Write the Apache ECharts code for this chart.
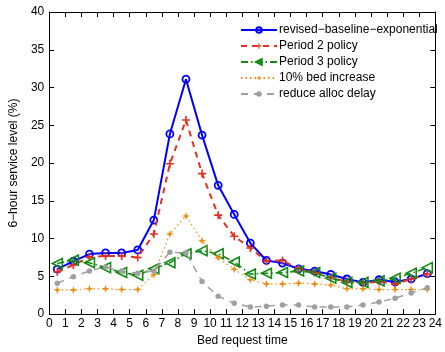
<!DOCTYPE html>
<html><head><meta charset="utf-8">
<script src="https://cdn.jsdelivr.net/npm/echarts@6/dist/echarts.min.js"></script>
<style>html,body{margin:0;padding:0;background:#fff}#c{width:445px;height:352px}</style>
</head><body><div id="c"></div>
<script>
var hours = [0.5,1.5,2.5,3.5,4.5,5.5,6.5,7.5,8.5,9.5,10.5,11.5,12.5,13.5,14.5,15.5,16.5,17.5,18.5,19.5,20.5,21.5,22.5,23.5];
var baseline = [5.95,7.0,7.95,8.1,8.1,8.5,12.45,23.85,31.1,23.7,17.05,13.2,9.4,7.1,6.75,6.0,5.7,5.25,4.65,4.2,4.55,4.25,4.65,5.35];
var period2  = [5.6,6.5,7.55,7.7,7.7,7.5,10.6,19.9,25.7,18.6,13.1,10.3,8.75,7.0,7.1,5.95,5.5,4.85,4.3,4.1,4.3,4.0,4.65,5.3];
var period3  = [6.7,7.15,6.8,6.15,5.5,5.15,6.0,6.8,8.0,8.4,8.0,6.9,5.3,5.4,5.5,5.7,5.5,4.75,4.2,4.2,4.4,4.75,5.4,6.15];
var bed10    = [3.2,3.2,3.35,3.35,3.25,3.25,5.2,10.6,13.0,9.7,7.45,5.95,4.55,4.0,4.0,4.1,4.0,3.85,3.35,3.35,3.25,3.25,3.25,3.25];
var allocDelay = [4.1,4.95,5.7,6.25,5.7,5.4,5.7,8.2,8.1,4.3,2.35,1.45,0.95,1.05,1.2,1.2,0.95,0.95,0.95,1.2,1.6,2.1,2.8,3.5];
var seriesNames = ['revised\u2212baseline\u2212exponential','Period 2 policy','Period 3 policy','10% bed increase','reduce alloc delay'];
var xTicks = {min:0,max:24,interval:1};
var yTicks = {min:0,max:40,interval:5};

function pairs(v){return hours.map(function(h,i){return [h,v[i]];});}
var FONT = '"Liberation Sans", Arial, Helvetica, sans-serif';
var plusPath = 'path://M4,0 L6,0 L6,4 L10,4 L10,6 L6,6 L6,10 L4,10 L4,6 L0,6 L0,4 L4,4 Z';
var diamondStar = 'path://M5,0 L6.3,3.7 L10,5 L6.3,6.3 L5,10 L3.7,6.3 L0,5 L3.7,3.7 Z';

var chart = echarts.init(document.getElementById('c'), null, {renderer:'canvas'});
var axisCommon = {
  axisLine:{show:true,onZero:false,lineStyle:{color:'#000',width:1}},
  axisTick:{show:true,inside:true,length:5,lineStyle:{color:'#000'}},
  splitLine:{show:false}
};
chart.setOption({
  animation:false,
  textStyle:{fontFamily:FONT},
  grid:{left:47,right:9,top:12,bottom:33,containLabel:false},
  legend:{
    orient:'vertical', left:235, top:19, itemWidth:36, itemHeight:7, itemGap:4,
    textStyle:{fontSize:12,color:'#000',fontFamily:FONT,padding:[0,0,0,-3]},
    data:seriesNames
  },
  xAxis:[
    Object.assign({type:'value',position:'bottom',min:xTicks.min,max:xTicks.max,interval:xTicks.interval,
      name:'Bed request time',nameLocation:'middle',nameGap:17,
      nameTextStyle:{fontSize:12,color:'#000',fontFamily:FONT},
      axisLabel:{fontSize:12,color:'#000',margin:4,fontFamily:FONT}},axisCommon),
    Object.assign({type:'value',position:'top',min:xTicks.min,max:xTicks.max,interval:xTicks.interval,
      axisLabel:{show:false}},axisCommon)
  ],
  yAxis:[
    Object.assign({type:'value',position:'left',min:yTicks.min,max:yTicks.max,interval:yTicks.interval,
      name:'6\u2212hour service level (%)',nameLocation:'middle',nameGap:27,
      nameTextStyle:{fontSize:12,color:'#000',fontFamily:FONT},
      axisLabel:{fontSize:12,color:'#000',margin:5,fontFamily:FONT}},axisCommon),
    Object.assign({type:'value',position:'right',min:yTicks.min,max:yTicks.max,interval:yTicks.interval,
      axisLabel:{show:false}},axisCommon)
  ],
  series:[
    {name:seriesNames[0],type:'line',data:pairs(baseline),z:2,
     symbol:'circle',symbolSize:7,showAllSymbol:true,
     lineStyle:{color:'#0000ff',width:2,type:'solid'},
     itemStyle:{color:'rgba(255,255,255,0)',borderColor:'#0000ff',borderWidth:1.8}},
    {name:seriesNames[1],type:'line',data:pairs(period2),z:3,
     symbol:plusPath,symbolSize:8,showAllSymbol:true,
     lineStyle:{color:'#e2321e',width:2,type:[6,5]},
     itemStyle:{color:'#e2321e',borderWidth:0}},
    {name:seriesNames[2],type:'line',data:pairs(period3),z:4,
     symbol:'triangle',symbolRotate:90,symbolSize:10,showAllSymbol:true,
     lineStyle:{color:'#138a13',width:1.6,type:[7,3,1.5,3]},
     itemStyle:{color:'rgba(255,255,255,0)',borderColor:'#138a13',borderWidth:1.6}},
    {name:seriesNames[3],type:'line',data:pairs(bed10),z:5,
     symbol:diamondStar,symbolSize:8,showAllSymbol:true,
     lineStyle:{color:'#f08c10',width:1.2,type:[1.5,3]},
     itemStyle:{color:'#f08c10',borderWidth:0}},
    {name:seriesNames[4],type:'line',data:pairs(allocDelay),z:6,
     symbol:'circle',symbolSize:5.5,showAllSymbol:true,
     lineStyle:{color:'#a0a0a0',width:1.5,type:[7,6]},
     itemStyle:{color:'#a0a0a0',borderWidth:0}}
  ]
});
</script></body></html>
